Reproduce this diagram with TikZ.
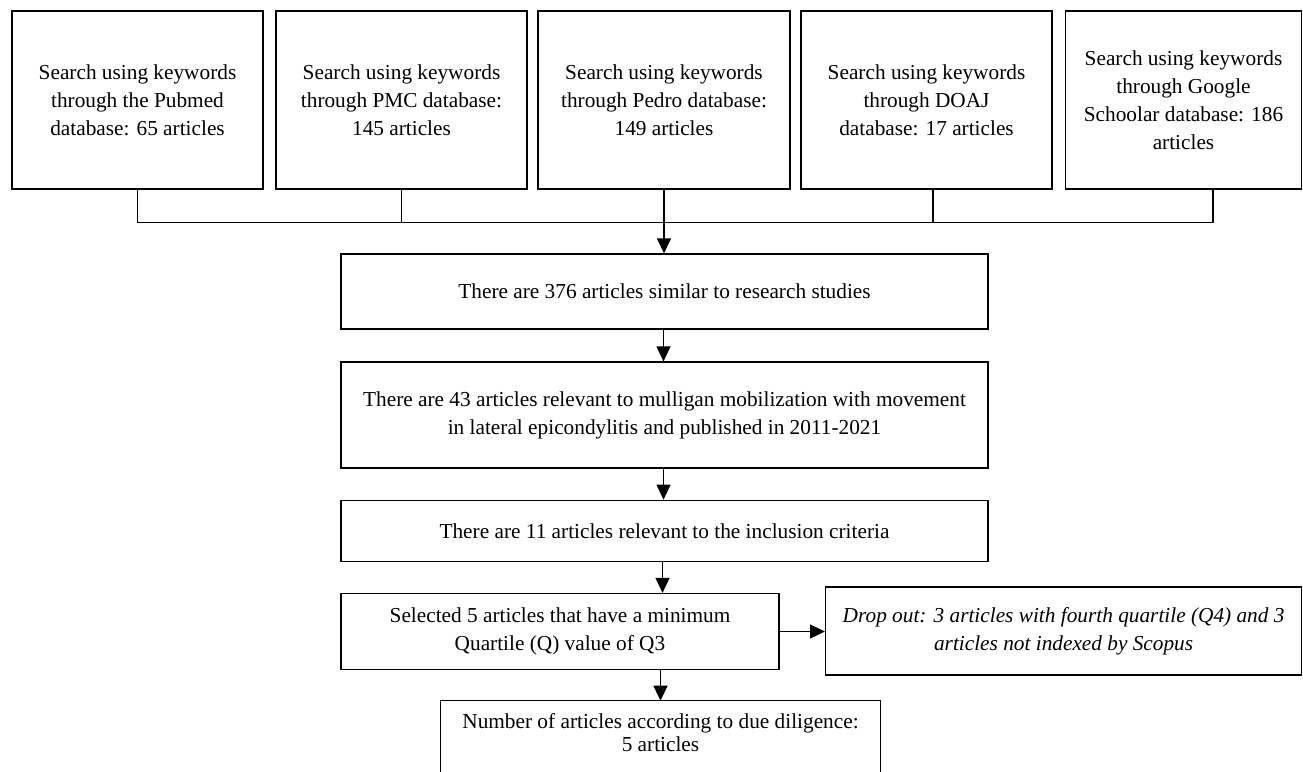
\documentclass[tikz,border=0pt]{standalone}
\usepackage{fontspec}
\setmainfont{Liberation Serif}
\usetikzlibrary{arrows.meta}
\begin{document}
\begin{tikzpicture}[x=1pt,y=-1pt,
  box/.style={draw, line width=1.2pt, inner sep=2pt, align=center, font=\fontsize{21.3}{28}\selectfont},
  arr/.style={line width=1.2pt, -{Triangle[length=15pt,width=14pt]}},
  ln/.style={line width=1.2pt}]
\useasboundingbox (0,0) rectangle (1303,771);
% top search boxes
\node[box, minimum width=251pt, minimum height=178pt] (b1) at (137.5,100) {Search using keywords\\through the Pubmed\\database: 65 articles};
\node[box, minimum width=251pt, minimum height=178pt] (b2) at (401.5,100) {Search using keywords\\through PMC database:\\145 articles};
\node[box, minimum width=252pt, minimum height=178pt] (b3) at (664,100) {Search using keywords\\through Pedro database:\\149 articles};
\node[box, minimum width=251pt, minimum height=178pt] (b4) at (926.5,100) {Search using keywords\\through DOAJ\\database: 17 articles};
\node[box, minimum width=236pt, minimum height=178pt] (b5) at (1183.5,100) {Search using keywords\\through Google\\Schoolar database: 186\\articles};
% main flow
\node[box, minimum width=647pt, minimum height=75pt] (m1) at (664.5,291.5) {There are 376 articles similar to research studies};
\node[box, minimum width=647pt, minimum height=106pt] (m2) at (664.5,415) {There are 43 articles relevant to mulligan mobilization with movement\\in lateral epicondylitis and published in 2011-2021};
\node[box, minimum width=647pt, minimum height=61.5pt] (m3) at (664.5,531) {There are 11 articles relevant to the inclusion criteria};
\node[box, minimum width=438pt, minimum height=76pt] (q3) at (560,631.5) {Selected 5 articles that have a minimum\\Quartile (Q) value of Q3};
\node[box, font=\fontsize{21.3}{28}\selectfont\itshape, minimum width=476pt, minimum height=88pt] (drop) at (1063.6,631) {Drop out: 3 articles with fourth quartile (Q4) and 3\\articles not indexed by Scopus};
\node[box, draw=none, font=\fontsize{21.3}{23}\selectfont, minimum width=439pt] (fin) at (660.5,733) {Number of articles according to due diligence:\\5 articles};
\coordinate (ftop) at (660.5,700.7);
\coordinate (fbot) at (660.5,790);
\draw[ln] (fin.west |- fbot) -- (fin.west |- ftop) -- (fin.east |- ftop) -- (fin.east |- fbot);
% collector line
\coordinate (j1) at (137.5,222.5);
\coordinate (j5) at (1213,222.5);
\coordinate (j) at (664,222.5);
\draw[ln] (b1.south) -- (b1.south |- j1) -- (j5) -- (j5 |- b5.south);
\draw[ln] (b2.south) -- (b2.south |- j1);
\draw[ln] (b3.south) -- (b3.south |- j1);
\draw[ln] ([xshift=6.5pt]b4.south) -- ([xshift=6.5pt]b4.south |- j1);
% arrows
\draw[arr] (j) -- (j |- m1.north);
\draw[arr] ([xshift=-1pt]m1.south) -- ([xshift=-1pt]m2.north);
\draw[arr] ([xshift=-1pt]m2.south) -- ([xshift=-1pt]m3.north);
\draw[arr] ([xshift=-2pt]m3.south) -- ([xshift=-2pt]m3.south |- q3.north);
\draw[arr] (q3.east) -- (q3.east -| drop.west);
\draw[arr] (q3.south -| ftop) -- (ftop);
\end{tikzpicture}
\end{document}
